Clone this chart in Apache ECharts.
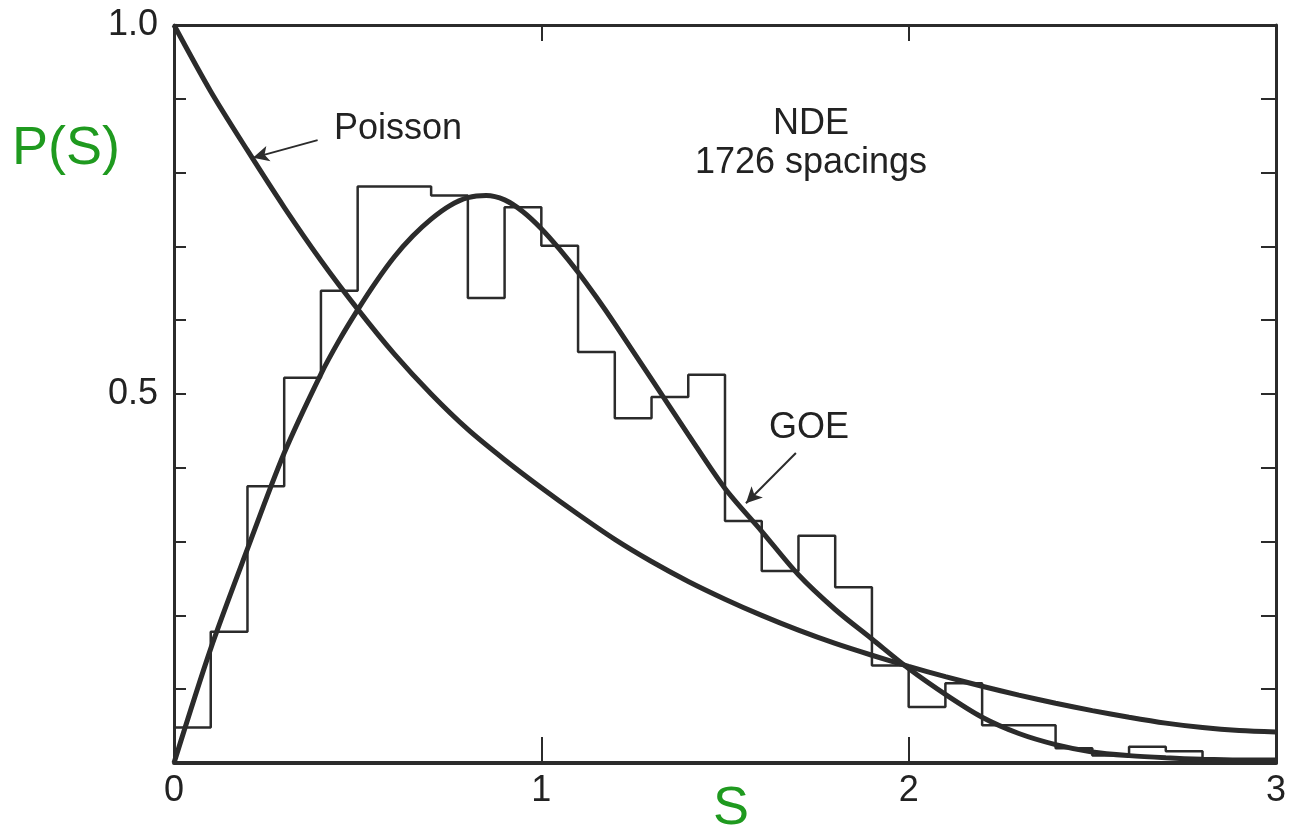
<!DOCTYPE html>
<html>
<head>
<meta charset="utf-8">
<title>P(S) - NDE spacings</title>
<script src="https://cdn.jsdelivr.net/npm/echarts@6/dist/echarts.min.js"></script>
<style>
  html, body { margin: 0; padding: 0; background: #fff; }
  #chart { width: 1289px; height: 835px; }
</style>
</head>
<body>
<div id="chart"></div>
<script>
// histogram: bin start (width 0.1) and height
var binStart = [0.0, 0.1, 0.2, 0.3, 0.4, 0.5, 0.6, 0.7, 0.8, 0.9,
                1.0, 1.1, 1.2, 1.3, 1.4, 1.5, 1.6, 1.7, 1.8, 1.9,
                2.0, 2.1, 2.2, 2.3, 2.4, 2.5, 2.6, 2.7, 2.8, 2.9, 3.0];
var binHeight = [0.048, 0.178, 0.375, 0.522, 0.640, 0.781, 0.781, 0.769, 0.630, 0.753,
                 0.701, 0.557, 0.467, 0.496, 0.526, 0.328, 0.260, 0.308, 0.238, 0.132,
                 0.076, 0.108, 0.051, 0.051, 0.020, 0.010, 0.022, 0.016, 0.004, 0.004, 0.004];

// Poisson curve
var poissonS = [0.0, 0.1, 0.2, 0.3, 0.4, 0.5, 0.6, 0.7, 0.8, 0.9,
                1.0, 1.1, 1.2, 1.3, 1.4, 1.5, 1.6, 1.7, 1.8, 1.9,
                2.0, 2.1, 2.2, 2.3, 2.4, 2.5, 2.6, 2.7, 2.8, 2.9, 3.0];
var poissonP = [1.0, 0.91, 0.83, 0.753, 0.681, 0.615, 0.554, 0.500, 0.452, 0.411,
                0.373, 0.337, 0.303, 0.273, 0.246, 0.222, 0.200, 0.180, 0.162, 0.146,
                0.131, 0.117, 0.104, 0.092, 0.081, 0.071, 0.062, 0.054, 0.048, 0.044, 0.042];

// GOE curve (denser round the peak)
var goeS = [0.0, 0.1, 0.2, 0.3, 0.4, 0.45, 0.5, 0.55, 0.6, 0.65, 0.7, 0.75, 0.8, 0.85, 0.9, 0.95,
            1.0, 1.05, 1.1, 1.15, 1.2, 1.3, 1.4, 1.5, 1.6, 1.7, 1.8, 1.9,
            2.0, 2.1, 2.2, 2.3, 2.4, 2.5, 2.6, 2.7, 2.8, 2.9, 3.0];
var goeP = [0.0, 0.155, 0.29, 0.42, 0.527, 0.573, 0.614, 0.652, 0.686, 0.714, 0.737, 0.755, 0.766, 0.769, 0.763, 0.747,
            0.724, 0.696, 0.665, 0.631, 0.595, 0.52, 0.445, 0.372, 0.314, 0.255, 0.208, 0.168,
            0.128, 0.093, 0.062, 0.040, 0.025, 0.015, 0.010, 0.007, 0.005, 0.004, 0.004];

var xTicks = ['0', '1', '2', '3'];
var yTicks = ['0.5', '1.0'];

var ink = '#2b2b2b';
var font = '"Liberation Sans", Arial, Helvetica, sans-serif';

function pairs(xs, ys) {
  var out = [];
  for (var i = 0; i < xs.length; i++) out.push([xs[i], ys[i]]);
  return out;
}

var myChart = echarts.init(document.getElementById('chart'));

myChart.setOption({
  animation: false,
  backgroundColor: '#fff',
  grid: { left: 174, right: 11, top: 25, bottom: 72 },
  xAxis: [{
    type: 'value', min: 0, max: 3, interval: 1,
    axisLine: { show: true, onZero: false, lineStyle: { color: ink, width: 4 } },
    axisTick: { show: true, inside: true, length: 26, lineStyle: { color: ink, width: 2 } },
    axisLabel: {
      color: '#222', fontSize: 36, fontFamily: font, margin: 10,
      formatter: function (v) { return xTicks[Math.round(v)]; }
    },
    splitLine: { show: false }
  }, {
    type: 'value', min: 0, max: 3, interval: 1, position: 'top',
    axisLine: { show: true, onZero: false, lineStyle: { color: ink, width: 3 } },
    axisTick: { show: true, inside: true, length: 16, lineStyle: { color: ink, width: 2 } },
    axisLabel: { show: false },
    splitLine: { show: false }
  }],
  yAxis: [{
    type: 'value', min: 0, max: 1, interval: 0.1,
    axisLine: { show: true, onZero: false, lineStyle: { color: ink, width: 3 } },
    axisTick: { show: true, inside: true, length: 12, lineStyle: { color: ink, width: 2 } },
    axisLabel: {
      color: '#222', fontSize: 36, fontFamily: font, margin: 16,
      formatter: function (v) {
        if (Math.abs(v - 0.5) < 1e-6) return yTicks[0];
        if (Math.abs(v - 1) < 1e-6) return yTicks[1];
        return '';
      }
    },
    splitLine: { show: false }
  }, {
    type: 'value', min: 0, max: 1, interval: 0.1, position: 'right',
    axisLine: { show: true, onZero: false, lineStyle: { color: ink, width: 3 } },
    axisTick: { show: true, inside: true, length: 15, lineStyle: { color: ink, width: 2 } },
    axisLabel: { show: false },
    splitLine: { show: false }
  }],
  series: [{
    name: 'NDE',
    type: 'line',
    step: 'end',
    showSymbol: false,
    data: pairs(binStart, binHeight),
    lineStyle: { color: ink, width: 2.5 },
    z: 2
  }, {
    name: 'Poisson',
    type: 'line',
    smooth: 0.3,
    showSymbol: false,
    data: pairs(poissonS, poissonP),
    lineStyle: { color: ink, width: 5 },
    z: 3,
    markLine: {
      silent: true,
      symbol: ['none', 'arrow'],
      symbolSize: [12, 16],
      label: { show: false },
      lineStyle: { color: ink, width: 2, type: 'solid' },
      data: [
        [{ coord: [0.391, 0.844] }, { coord: [0.215, 0.820] }],
        [{ coord: [1.693, 0.420] }, { coord: [1.557, 0.352] }]
      ]
    }
  }, {
    name: 'GOE',
    type: 'line',
    smooth: 0.3,
    showSymbol: false,
    data: pairs(goeS, goeP),
    lineStyle: { color: ink, width: 5 },
    z: 3
  }],
  graphic: [
    { type: 'text', left: 12, top: 122, style: { text: 'P(S)', fill: '#1f9a1f', font: '54px ' + font } },
    { type: 'text', left: 713, top: 782, style: { text: 'S', fill: '#1f9a1f', font: '54px ' + font } },
    { type: 'text', left: 334, top: 111, style: { text: 'Poisson', fill: '#222', font: '36px ' + font } },
    { type: 'text', x: 811, y: 106, style: { text: 'NDE', fill: '#222', font: '36px ' + font, textAlign: 'center' } },
    { type: 'text', x: 811, y: 145, style: { text: '1726 spacings', fill: '#222', font: '36px ' + font, textAlign: 'center' } },
    { type: 'text', left: 769, top: 410, style: { text: 'GOE', fill: '#222', font: '36px ' + font } }
  ]
});
</script>
</body>
</html>
